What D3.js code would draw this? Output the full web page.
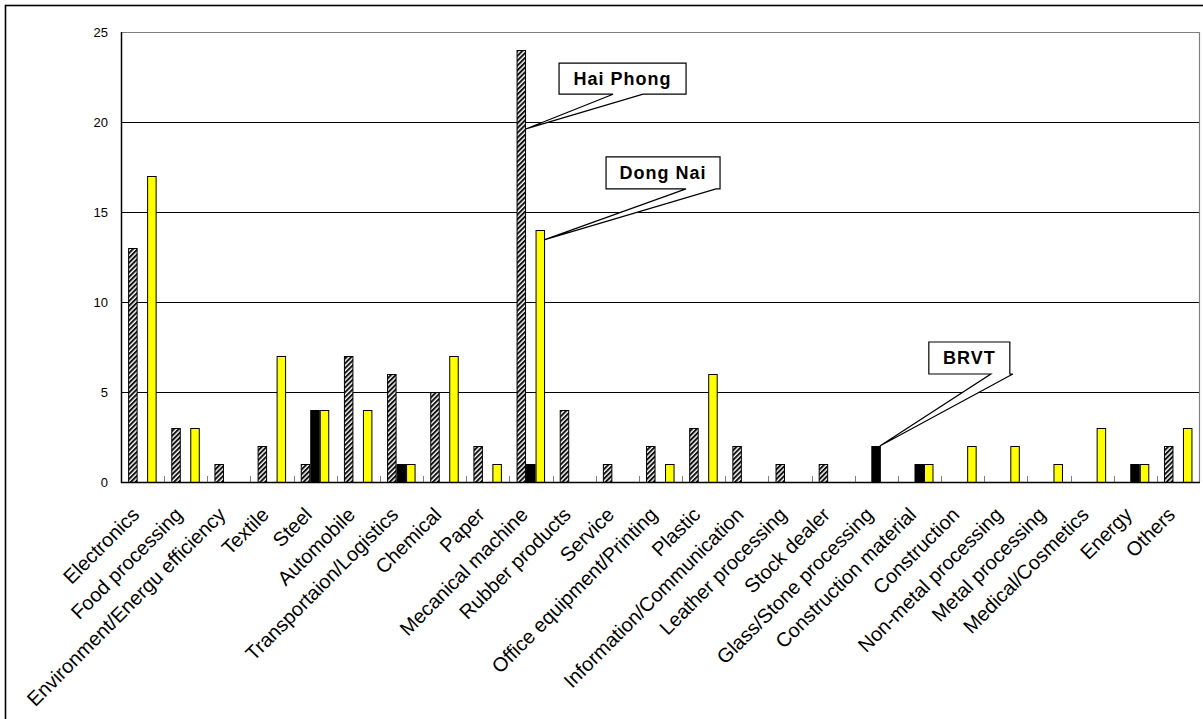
<!DOCTYPE html>
<html>
<head>
<meta charset="utf-8">
<script src="https://cdn.jsdelivr.net/npm/d3@7"></script>
<style>
  html, body { margin: 0; padding: 0; background: #fff; }
  svg { display: block; }
  text { font-family: "Liberation Sans", Arial, sans-serif; fill: #000; }
</style>
</head>
<body>
<svg id="chart" width="1203" height="719"></svg>
<script>
// Number of companies by industry in three provinces
const categories = [
  "Electronics", "Food processing", "Environment/Energu efficiency", "Textile", "Steel",
  "Automobile", "Transportaion/Logistics", "Chemical", "Paper", "Mecanical machine",
  "Rubber products", "Service", "Office equipment/Printing", "Plastic",
  "Information/Communication", "Leather processing", "Stock dealer",
  "Glass/Stone processing", "Construction material", "Construction",
  "Non-metal processing", "Metal processing", "Medical/Cosmetics", "Energy", "Others"
];
const series = ["Hai Phong", "BRVT", "Dong Nai"];
const haiPhong = [13, 3, 1, 2, 1, 7, 6, 5, 2, 24, 4, 1, 2, 3, 2, 1, 1, 0, 0, 0, 0, 0, 0, 0, 2];
const brvt     = [0, 0, 0, 0, 4, 0, 1, 0, 0, 1, 0, 0, 0, 0, 0, 0, 0, 2, 1, 0, 0, 0, 0, 1, 0];
const dongNai  = [17, 3, 0, 7, 4, 4, 1, 7, 1, 14, 0, 0, 1, 6, 0, 0, 0, 0, 1, 2, 2, 1, 3, 1, 3];
const yTicks = [0, 5, 10, 15, 20, 25];

// Callouts: series, category, value along the bar where the pointer lands
const callouts = [
  { series: "Hai Phong", category: "Mecanical machine", at: 19.6, dx: 34, dy: -66, w: 127, h: 31, b1: 54, b2: 84 },
  { series: "Dong Nai",  category: "Mecanical machine", at: 13.45, dx: 62, dy: -83, w: 114, h: 32, b1: 80, b2: 110 },
  { series: "BRVT",      category: "Glass/Stone processing", at: 2, dx: 49, dy: -104, w: 81, h: 32, b1: 62, b2: 84 }
];

const valuesBySeries = { "Hai Phong": haiPhong, "BRVT": brvt, "Dong Nai": dongNai };
const svg = d3.select("#chart");

const plot = { left: 121, right: 1200, top: 32, bottom: 482 };

const x0 = d3.scaleBand().domain(categories).range([plot.left, plot.right]).padding(0);
const bw = x0.bandwidth();
const x1 = d3.scaleBand().domain(series).range([bw * 0.165, bw * 0.825]).padding(0);
const y = d3.scaleLinear().domain([0, 25]).range([plot.bottom, plot.top]);

// Diagonal hatch for Hai Phong
const defs = svg.append("defs");
const pat = defs.append("pattern")
  .attr("id", "hatch").attr("patternUnits", "userSpaceOnUse")
  .attr("width", 3.4).attr("height", 3.4)
  .attr("patternTransform", "rotate(45)");
pat.append("rect").attr("width", 3.4).attr("height", 3.4).attr("fill", "#fff");
pat.append("rect").attr("width", 2).attr("height", 3.4).attr("fill", "#111");

const fills = { "Hai Phong": "url(#hatch)", "BRVT": "#000", "Dong Nai": "#ffff00" };

// Outer frame
svg.append("rect").attr("x", 5.5).attr("y", 5.5).attr("width", 1300).attr("height", 800)
  .attr("fill", "none").attr("stroke", "#000").attr("stroke-width", 1.6);

// Gridlines
svg.append("g").selectAll("line").data(yTicks.filter(t => t > 0 && t < 25)).join("line")
  .attr("x1", plot.left).attr("x2", plot.right)
  .attr("y1", d => Math.round(y(d)) + 0.5).attr("y2", d => Math.round(y(d)) + 0.5)
  .attr("stroke", "#000").attr("stroke-width", 1);

// Plot border top / right
svg.append("line").attr("x1", plot.left).attr("x2", plot.right)
  .attr("y1", y(25) + 0.5).attr("y2", y(25) + 0.5).attr("stroke", "#808080").attr("stroke-width", 1.2);
svg.append("line").attr("x1", plot.right - 0.5).attr("x2", plot.right - 0.5)
  .attr("y1", plot.top).attr("y2", plot.bottom).attr("stroke", "#808080").attr("stroke-width", 1.2);

// Y axis labels
svg.append("g").selectAll("text").data(yTicks).join("text")
  .attr("x", 108).attr("y", d => y(d)).attr("dy", "0.36em")
  .attr("text-anchor", "end").style("font-size", "13px").text(d => d);

// Bars
const groups = svg.append("g").selectAll("g").data(categories).join("g")
  .attr("transform", d => `translate(${x0(d)},0)`);
groups.selectAll("rect")
  .data((c, i) => series.map(s => ({ s, v: valuesBySeries[s][i] })).filter(d => d.v > 0))
  .join("rect")
  .attr("x", d => x1(d.s) + 0.5)
  .attr("y", d => y(d.v) + 0.5)
  .attr("width", x1.bandwidth() - 1)
  .attr("height", d => y(0) - y(d.v))
  .attr("fill", d => fills[d.s])
  .attr("stroke", "#000").attr("stroke-width", 1);

// X axis: boundary ticks and baseline
svg.append("g").selectAll("line").data(categories.slice(1)).join("line")
  .attr("x1", d => Math.round(x0(d)) + 0.5).attr("x2", d => Math.round(x0(d)) + 0.5)
  .attr("y1", plot.bottom - 6).attr("y2", plot.bottom)
  .attr("stroke", "#808080").attr("stroke-width", 1);
svg.append("line").attr("x1", plot.left).attr("x2", plot.right)
  .attr("y1", plot.bottom + 0.5).attr("y2", plot.bottom + 0.5)
  .attr("stroke", "#000").attr("stroke-width", 1.5);
svg.append("line").attr("x1", plot.left + 0.5).attr("x2", plot.left + 0.5)
  .attr("y1", plot.top).attr("y2", plot.bottom + 1)
  .attr("stroke", "#000").attr("stroke-width", 1.5);

// Category labels
svg.append("g").selectAll("text").data(categories).join("text")
  .attr("transform", d => `translate(${x0(d) + bw / 2 - 2},${plot.bottom + 34}) rotate(-45)`)
  .attr("text-anchor", "end").style("font-size", "20px").text(d => d);

// Callouts
const cg = svg.append("g");
callouts.forEach(c => {
  const tx = x0(c.category) + x1(c.series) + x1.bandwidth() - 1;
  const ty = y(c.at);
  const bx = tx + c.dx, by = ty + c.dy;
  const p = d3.path();
  p.moveTo(bx, by);
  p.lineTo(bx + c.w, by);
  p.lineTo(bx + c.w, by + c.h);
  p.lineTo(bx + c.b2, by + c.h);
  p.lineTo(tx, ty);
  p.lineTo(bx + c.b1, by + c.h);
  p.lineTo(bx, by + c.h);
  p.closePath();
  cg.append("path").attr("d", p.toString())
    .attr("fill", "#fff").attr("stroke", "#000").attr("stroke-width", 1.2);
  cg.append("text").attr("x", bx + c.w / 2).attr("y", by + c.h / 2).attr("dy", "0.36em")
    .attr("text-anchor", "middle")
    .style("font-size", "18px").style("font-weight", "bold").style("letter-spacing", "1px")
    .text(c.series);
});
</script>
</body>
</html>
